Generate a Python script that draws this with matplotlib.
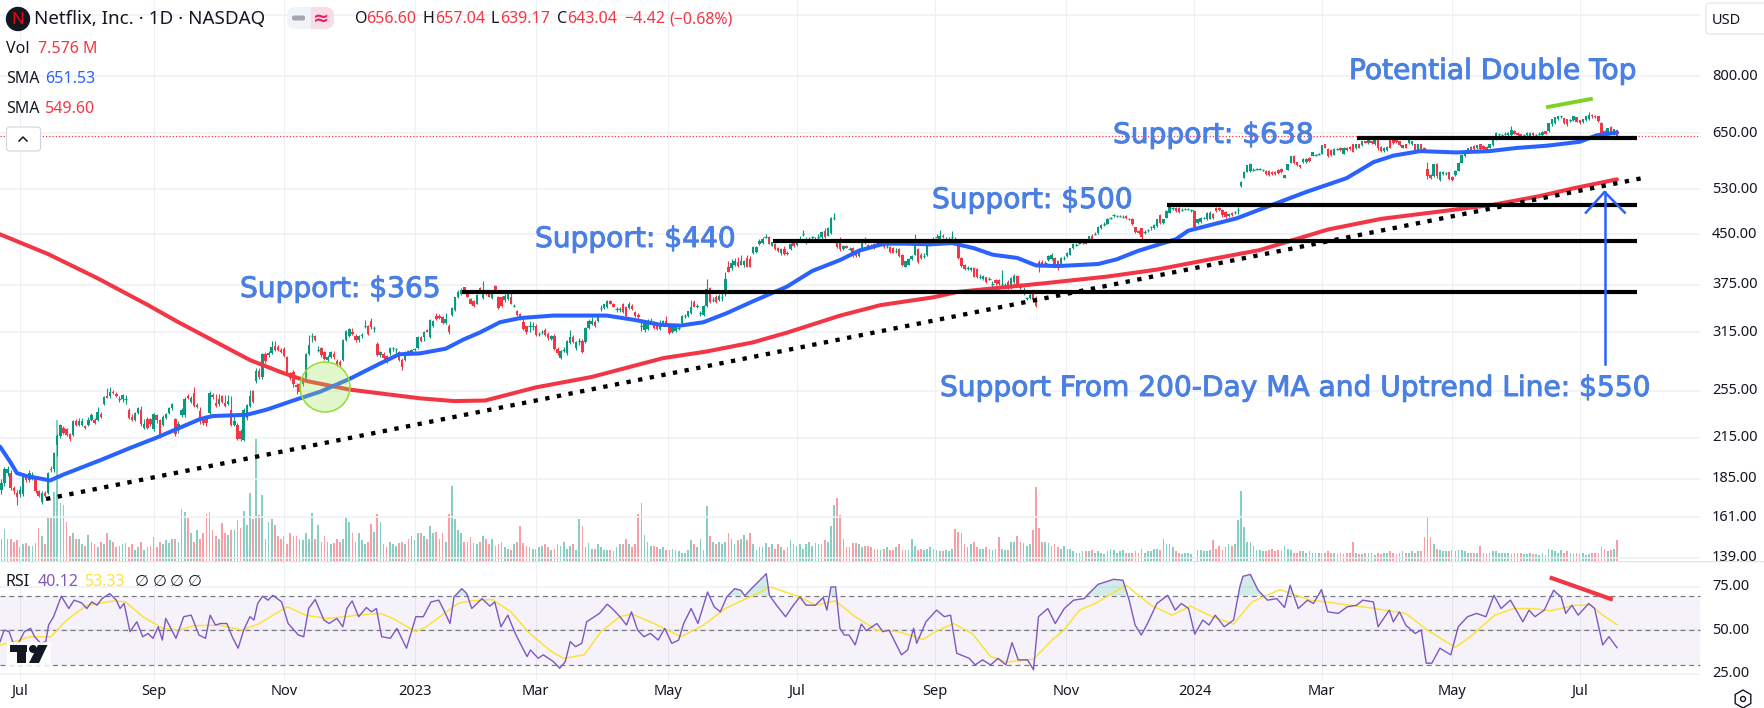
import numpy as np
import matplotlib
matplotlib.use("Agg")
import matplotlib.pyplot as plt
import matplotlib.patheffects as pe
from matplotlib.patches import Circle, FancyBboxPatch, Polygon, Rectangle, RegularPolygon

plt.rcParams['font.family'] = ['Noto Sans', 'DejaVu Sans']

# Daily candles, first bar is 6 sessions before 1 Jul 2022, one line = 10 bars
opens = [
    178,182,189,189,179,176,175,175,186,184,
    185,185,177,170,176,176,192,192,209,216,
    223,222,218,217,228,225,225,224,225,229,
    229,229,234,243,250,250,254,252,247,247,
    247,238,232,229,235,238,223,230,230,222,
    233,229,225,231,235,239,230,221,233,233,
    250,245,253,240,237,230,232,235,251,244,
    243,250,244,243,238,225,225,220,213,231,
    241,255,264,274,268,291,290,292,300,299,
    296,297,288,272,273,260,261,261,267,291,
    311,311,296,298,293,285,288,291,284,283,
    285,306,311,316,311,306,311,323,322,328,
    320,302,290,291,289,292,298,297,293,285,
    285,295,293,296,298,310,310,318,310,322,
    335,335,333,326,323,336,342,358,362,371,
    365,356,353,350,370,357,367,364,357,373,
    358,358,354,356,358,347,340,337,327,322,
    323,323,323,313,315,318,313,308,311,297,
    287,296,292,303,310,298,305,305,304,320,
    325,327,328,344,344,345,353,349,343,343,
    349,345,344,347,339,336,323,318,319,328,
    326,323,319,323,329,321,315,317,320,326,
    334,334,338,352,346,338,336,347,370,355,
    358,354,358,367,400,398,402,407,403,402,
    413,412,420,422,434,436,446,446,432,434,
    428,420,427,421,426,438,433,443,451,439,
    443,445,441,445,445,456,448,452,478,437,
    441,426,431,427,428,420,416,428,443,433,
    432,434,436,434,438,432,430,428,424,426,
    417,400,403,411,418,427,418,416,417,432,
    441,446,443,448,443,442,446,443,436,413,
    402,398,395,398,397,386,383,385,383,376,
    381,381,376,371,378,370,378,387,375,365,
    357,357,363,355,407,407,405,410,411,413,
    408,402,413,416,418,428,433,436,436,439,
    439,448,451,452,460,467,468,478,482,481,
    481,480,481,476,476,462,456,460,454,457,
    462,460,464,482,469,478,487,495,495,495,
    492,494,494,491,490,469,470,478,476,476,
    484,495,495,492,488,481,487,488,492,536,
    553,565,567,569,571,571,569,567,567,565,
    565,569,571,553,569,584,599,585,578,585,
    586,594,599,601,603,603,624,614,612,601,
    614,617,603,617,619,624,615,624,622,631,
    628,631,624,635,619,610,612,635,636,636,
    631,617,624,628,624,624,610,624,617,571,
    558,556,581,549,560,562,564,555,558,567,
    584,599,606,619,621,615,624,621,619,617,
    622,636,647,645,649,645,645,656,651,647,
    645,645,642,651,645,649,645,655,655,671,
    675,684,691,686,684,682,682,689,682,677,
    682,684,695,693,691,675,656,647,665,649,
    656.60]
closes = [
    182,192,192,179,177,173,178,186,184,189,
    188,177,174,176,174,189,191,203,216,225,
    219,217,214,228,225,228,228,223,229,233,
    227,236,232,249,248,254,253,250,247,251,
    247,231,229,235,239,226,226,223,226,234,
    229,217,232,234,239,243,218,226,238,247,
    248,248,241,242,231,227,227,253,249,241,
    247,245,241,246,225,228,214,214,238,242,
    250,245,274,268,291,284,292,299,296,296,
    293,289,273,267,261,258,254,267,291,301,
    311,306,296,290,286,288,293,288,280,280,
    307,317,319,313,306,311,312,323,313,321,
    320,290,293,287,283,298,298,297,285,278,
    293,291,296,297,310,305,316,316,330,328,
    331,332,326,331,315,344,358,365,368,368,
    359,350,347,361,368,365,362,359,365,367,
    344,347,360,363,350,347,336,331,319,316,
    323,323,312,313,315,312,309,311,297,292,
    294,296,305,310,304,304,305,293,320,329,
    329,322,335,344,349,353,350,346,343,343,
    339,334,350,343,334,333,323,328,328,328,
    320,319,323,328,323,314,322,323,320,334,
    334,340,346,346,347,338,347,369,352,355,
    352,360,358,382,393,405,408,401,409,408,
    400,400,430,430,440,442,446,435,437,426,
    423,427,419,419,434,431,441,443,451,439,
    443,445,441,445,454,445,460,478,478,430,
    426,431,429,427,416,416,426,439,436,428,
    430,428,436,434,430,432,422,421,424,416,
    403,408,412,416,435,407,413,416,433,437,
    441,446,448,445,443,442,446,436,413,401,
    397,398,398,386,385,386,387,378,383,376,
    377,376,376,375,369,384,387,372,370,365,
    357,361,356,347,400,402,405,416,418,403,
    398,413,413,421,428,435,433,436,438,435,
    447,443,451,463,466,467,476,478,482,481,
    481,480,478,476,468,454,452,445,454,457,
    462,466,475,469,475,490,498,495,490,488,
    492,494,494,491,463,475,478,478,487,487,
    478,490,491,482,480,485,482,488,492,545,
    565,578,581,569,571,571,569,560,559,560,
    560,562,564,558,581,598,583,579,574,592,
    592,587,606,601,603,622,617,599,601,614,
    614,612,617,612,614,608,624,617,631,628,
    633,628,635,615,610,617,619,617,628,629,
    622,622,617,633,631,610,624,614,612,556,
    553,581,556,565,565,562,551,549,567,584,
    601,608,615,612,614,622,614,614,612,624,
    636,651,647,645,649,651,658,649,645,642,
    645,651,651,645,645,649,653,649,674,684,
    689,691,691,674,671,682,691,678,675,684,
    691,695,691,689,680,651,649,662,653,660,
    643.04]
highs = [
    185,193,194,191,180,178,180,187,188,191,
    190,186,178,177,177,190,194,204,218,226,
    224,223,219,229,230,231,231,225,232,235,
    231,240,236,250,257,258,256,254,250,252,
    251,239,234,236,240,241,230,232,231,235,
    234,230,233,235,240,244,231,228,239,249,
    252,250,258,244,240,231,233,255,253,252,
    252,251,251,251,250,233,227,222,239,243,
    256,256,277,277,292,293,294,305,305,301,
    298,299,289,273,275,262,263,268,292,312,
    314,312,300,299,295,290,294,295,286,285,
    308,318,320,320,313,312,314,330,324,332,
    323,304,294,293,290,299,299,298,294,287,
    295,296,297,298,311,311,317,319,331,330,
    338,337,334,338,325,345,359,367,370,372,
    366,357,354,362,372,380,368,365,366,375,
    360,360,362,366,365,350,342,338,332,323,
    328,327,325,315,318,320,315,312,313,299,
    296,299,306,318,312,305,309,308,321,331,
    333,330,337,348,350,354,354,351,346,346,
    351,347,352,349,341,338,328,330,331,332,
    328,325,330,330,334,323,323,324,322,336,
    337,341,354,354,349,340,348,382,372,358,
    361,362,364,393,408,412,413,414,418,410,
    418,416,432,431,442,445,450,448,438,436,
    430,428,432,424,436,440,443,448,458,445,
    445,447,446,450,456,460,462,480,487,441,
    445,433,433,430,430,423,428,441,446,435,
    434,436,440,437,440,436,432,430,428,428,
    419,409,413,417,450,428,420,420,434,439,
    445,450,458,450,446,445,455,445,437,414,
    404,401,400,399,398,389,388,386,386,380,
    383,383,396,377,381,385,389,388,377,372,
    359,363,365,360,410,410,408,417,420,414,
    410,414,416,422,429,436,436,438,440,441,
    448,450,454,464,467,470,477,480,484,483,
    483,482,483,478,477,463,458,461,457,459,
    464,467,476,484,476,491,499,497,497,497,
    495,496,496,493,492,476,479,480,488,489,
    486,497,497,493,489,486,488,490,497,546,
    566,579,583,572,573,573,571,569,568,567,
    567,570,572,559,582,599,601,586,579,593,
    593,595,607,603,605,623,625,615,613,615,
    616,618,618,618,620,625,625,625,632,632,
    634,632,636,637,620,618,620,636,637,637,
    632,623,625,634,632,626,625,625,618,585,
    560,582,583,566,566,564,565,556,568,585,
    602,609,616,620,622,623,625,622,620,625,
    637,652,649,647,653,652,666,657,652,648,
    648,652,652,652,648,652,654,656,675,685,
    690,692,693,687,685,684,692,690,683,685,
    692,703,696,694,692,676,658,663,667,661,
    657.04]
lows = [
    175,180,187,178,175,168,173,174,183,183,
    184,176,173,169,173,175,190,190,201,215,
    218,216,212,216,224,224,224,222,224,228,
    226,228,231,242,248,248,252,249,245,245,
    243,230,228,228,234,224,222,222,224,220,
    227,215,224,230,234,238,216,219,232,232,
    247,244,240,239,226,225,224,234,247,240,
    241,244,240,242,224,224,213,212,212,229,
    240,244,262,266,266,282,288,291,295,294,
    292,288,272,265,258,252,252,259,266,290,
    304,305,293,288,285,283,287,286,279,278,
    284,305,310,312,304,304,309,320,312,319,
    315,289,288,286,282,290,294,292,284,275,
    284,290,292,294,297,304,305,315,309,321,
    330,331,325,325,313,335,341,357,361,367,
    358,349,345,349,366,356,361,358,356,365,
    343,346,352,355,349,345,335,330,318,313,
    316,318,311,311,313,311,306,307,296,290,
    286,293,290,302,303,296,301,292,303,319,
    324,321,327,340,343,344,349,345,339,339,
    338,333,343,342,333,331,317,316,318,325,
    319,318,318,322,322,313,314,316,318,325,
    332,333,337,345,344,335,335,346,351,352,
    351,353,353,360,392,396,401,400,402,400,
    399,399,419,421,433,434,444,434,431,425,
    422,418,418,417,425,430,432,441,447,434,
    441,441,439,443,443,444,447,451,474,428,
    424,425,428,425,415,414,415,427,434,427,
    428,427,433,431,429,428,421,420,421,415,
    401,399,402,410,417,405,411,413,416,431,
    439,444,442,444,441,439,442,435,412,400,
    395,396,394,385,384,383,381,377,381,372,
    375,374,370,369,365,369,376,371,367,361,
    355,356,354,346,392,400,402,408,410,401,
    396,401,410,415,417,427,431,434,435,434,
    438,442,449,451,459,464,467,476,480,479,
    479,478,476,474,466,452,450,443,451,454,
    458,459,463,468,468,477,486,492,488,486,
    489,491,491,488,458,467,469,475,474,475,
    476,488,489,480,478,480,481,485,485,535,
    552,564,565,566,568,568,566,559,557,558,
    558,561,563,552,568,583,581,577,572,584,
    584,585,598,598,600,602,615,597,599,600,
    611,610,602,610,612,606,613,615,621,627,
    626,626,623,612,608,608,610,615,626,627,
    620,615,615,626,622,608,608,611,610,550,
    551,554,553,546,558,559,549,546,557,566,
    583,597,604,610,612,613,612,612,610,615,
    620,634,640,636,645,644,644,647,643,640,
    641,643,640,643,642,645,644,647,653,668,
    672,682,688,672,668,678,680,676,673,675,
    680,683,688,687,678,648,646,645,651,645,
    639.17]
# Volume in millions
volumes = [
    8,11.5,8,8,7,7.5,5,6,6.5,5.5,
    5.5,6.5,12,9,6,15.4,15.4,25,50.8,21,
    20,14,9,10,8,8,6,5.5,9.5,7,
    6,5,7,6,10,7.5,7,5,5.5,6,
    6.5,5,6,4,5,7,4,5,5.5,8.5,
    5,7,6,7.5,6.5,8,8,7,18.6,17.8,
    15.6,10,7,11,8,10,17,17.8,11,9,
    8,13.6,10,9.5,11,11,14.8,12,18,13,
    24.4,15,43.8,16.6,23.8,8,14,15,13,9,
    8,9,6,10,9,9,8,7.5,10,8,
    17.2,8,13,7,9,7,6,6.5,8,7,
    8,15.4,14,10,7,10,7.5,6,7,13.5,
    10.5,16.9,14,6,5,7,6,5.5,6.5,7,
    6,8,9,7.5,10,10,9,8,12.5,10,
    10.5,8,10,7,17,27,15,11,10,7,
    7,8.5,6.5,6,7,9,8,6,8,5.5,
    6,7,5,4.5,4,6,7,12.7,6.5,5.5,
    5,4.5,4.5,5,5.5,6,5,4,4.5,6,
    5.5,7,4.5,5.5,6,4,15,12.5,5,6.5,
    4.5,4.5,6,5,4,4,4,3.5,5,6,
    6,8,6,5,6,17,20.8,9.5,7,5.5,
    5.5,5,4.5,5,4,4,4.5,4,3.5,3,
    3,4,7.5,6,5,8,4,19.8,9,7,
    6,7,6,7,10,8,6,7.5,8,9.5,
    7.5,10,6,4,5,5,6.5,5,6,4.5,
    6,5,4,5,7.5,6,5.5,6,4.5,6,
    7,5.5,6.5,6,6,7.5,7,12.6,20,22.8,
    16.6,8,5,5,6.5,6.5,6,5,5.5,5.5,
    5,4.5,4.5,4,4.5,5,4,4,5,6,
    4,4,4,8,5.5,4,4.5,4,4.5,5,
    4.5,4,3.5,3.5,4,3.5,4.5,11.5,10.5,10,
    6,5,6,7,5,4.5,4.5,5,4.5,4,
    4.5,8.5,4.5,4,4,7,7,9,7,6.5,
    5.5,6,11,26.6,12,7,7,6.5,5.5,6,
    5,4.5,5.5,4.5,4.5,3.5,3,3,3.5,3.5,
    3.5,4,3,3.5,3,2.5,3.5,4.5,4,3,
    3.5,4,3,3,3,3.5,3,4.5,3,3.5,
    3.5,4.5,4.5,4,8,6,6,5,3.5,3,
    2.5,3,3,2.5,3.5,4,4,3.5,3.5,4,
    7.5,4.5,5.5,4,5,6,5.5,6,14.8,25.2,
    12.4,7,7,5.5,4,4,3.5,3.5,4,4.5,
    3.5,4,3.5,5.5,4.5,4,3,3,3.5,3.5,
    3,3.5,3,3,3,3,3,3.5,3,3,
    2.5,3,2.5,3,3,7,3,2.5,2.5,3,
    3,3,2,3,2.5,3,3,3.5,3,2.5,
    3,3.5,3,3,3.5,3,3.5,3.5,8.5,16,
    8.5,6,4.5,4,3.5,3.5,3.5,4,3.5,4,
    4,3.5,3,3,3,3,5.5,3,2.5,3,
    3.5,3.5,3,3,3,3,2.5,3,3,3,
    2.5,2.5,3,2.5,2.5,2,3,2,4.5,4,
    3.5,3,4,3,3.5,3,2.5,3,2.5,3,
    2,2.5,3,3,3,5,4.5,3.5,4,4.5,
    7.576]

# Moving averages, read at the bends (bar number, price)
sma50_bars = [-6.4,-3.2,-1,2,9.7,14,25.8,35.4,44,58,62,73,79.4,89,96.6,106,115,122,128.8,
              137,142.7,148,154.5,161,171.7,180,188.8,197.4,206,212.5,220,227.5,236,246.8,255,264,
              270,278,285,293,300,307,313,321,327,334,347,353,360,372,376,391.6,
              403.5,414,427,435.6,442,450.7,462.4,473,481.7,491.4,502,507.5,514]
sma50_vals = [208,197,189,187,184,188,198,207,215,230,232.5,233.6,238,247,254,266,280,291,292,
              297,307,315,327,332,335,335,335,330,324,323,327,338,353,372,394,410,
              424,435,435,434,436,428,418,413,402,401,404,411,424,442,456,477,
              502,525,552,585,599,609,606,609,616,621,630,645,651.53]
sma200_bars = [-6.4,9,24.8,41.2,50.5,74,84.6,92.4,106,128.7,139.7,149.7,166,184,207,221,236,247,264,
               277,294,301.6,328,350,366,382,399,421,438,457,474,489,500,514]
sma200_vals = [450,419,384,348,328,285,272,264,256,248,245.5,246,258,268,287,294,304,315,335,
               348,358,365,376,386,396,410,425,458,476,489,501,517,532,549.6]

# Support levels and uptrend line
support_levels = [365, 440, 500, 638]
support_starts = [142.3, 242.4, 369.2, 430.3]
support_end = 520.4
trend_bars = [8.4, 523.7]
trend_prices = [172, 554]

# RSI, read at the bends
rsi_bars = [-6.4,-5.1,-3.5,-1.8,-0.2,1.4,3.4,4.7,6.7,8.3,9.2,10.8,13.3,15.7,17.4,19.8,21.5,23.1,24.8,26.4,
            28.9,31,32.2,33.5,35.4,37.6,39.5,41.2,42.8,44.5,45.8,46.9,50.2,52.7,55.1,57.6,59.7,61.2,62.9,64.5,
            66.6,68.3,70.2,72,74,75.3,76.5,78.1,79.8,81.4,84.2,86.3,89.6,91.3,92.9,95,97.8,99.5,102,103.9,
            105.2,106.9,109,111.5,113.1,114.7,116.4,119.2,121.3,124.4,127.4,129.8,132.3,134.8,136.4,138.4,139.7,142.2,143.8,145.4,
            148.7,151.2,152.8,154.8,157,159.4,161,163.2,164.3,166.8,168.4,170.1,171.7,173.7,175.5,177.1,178.8,180.8,182.4,184.9,
            186.5,189,190.6,193.1,195.2,196.8,198.8,200.8,202.9,205.4,207.5,209.8,212,213.6,216,218.2,221.3,223.4,225.4,227.5,
            230,232,233.3,234.9,240.2,241.2,243.5,246.4,248.9,
            251,253,256,258.5,259.7,261,262.5,263.9,265.3,266.8,268.8,270.8,272.4,275.8,277.7,279.7,283.7,285.7,287.6,288.6,
            291.6,295,297.5,299.5,301.5,305.5,307.4,309.8,312.4,314.8,317.3,319.3,321.3,324.3,326.2,327.8,330.8,333.2,336.1,339.1,
            342.5,344,347,352,355,357,358.9,360.9,362.9,365.9,369.4,371.8,373.8,376.1,378.1,380.7,382.7,384.7,387.6,390.6,
            392.6,393.6,396,398.5,401.5,404.5,407,408.8,411.4,414.4,416.3,418.9,420.9,424.3,427.2,430.2,432.2,435.6,437.1,440.7,
            442,444,446,449,451,452.6,454.4,457,460.5,462.9,465.9,468.8,471.8,474.4,476.7,479.7,483.7,485.7,487.6,490.6,
            493.6,496,497.5,499.5,501.5,504.9,506.8,509.4,511.4,514]
rsi_vals = [43.6,50.2,49.3,40.7,43.6,49.3,51.2,46.4,42.6,43.6,53.1,57.9,69.7,62.6,67.4,65.9,62.6,66.4,64.5,68.3,
            71.2,67.4,62.6,65.5,49.3,55,46.4,48.3,45.5,52.1,44.5,56.9,45.5,57.9,58.8,47.4,45.5,58.8,53.1,54,
            54,46.4,39.8,50.2,57.9,56,65.5,69.7,67.4,70.2,66.4,54,47.4,46.4,62.6,67.8,56,54,56.9,52.1,
            62.6,67,57.9,63.2,60.7,62.6,46.4,45.5,51.2,39.8,57.9,57.9,66.4,67.4,61.7,54,69.3,74,71.2,62.6,
            68.3,64,66.4,52.1,58.8,48.3,42.6,35,38.8,34,36,34,32.1,28.3,32.1,43.6,40.7,42.6,55,57.9,
            59.8,65.1,62.6,57.9,53.1,60.7,50.2,46.4,48.3,44.5,51.2,42.6,44.5,54,62.6,54,72.1,63.6,60.7,69.3,
            74,73.1,69.9,73.1,82.6,70.2,64.5,57.9,64.5,
            69.3,64.5,64.5,68.9,61.7,75,75,51.2,47.4,47.4,41.7,53.7,49.9,54,49.3,50.2,36,38.8,51.2,42.6,
            55,61.7,57.9,58.8,36.9,34,30.2,33.1,30.2,34,30.2,43,33.1,33.1,27.4,57.9,62.6,54,62.6,67.4,
            68.3,71.2,76.5,79.4,78.8,67.4,53.1,47.4,54,65.5,70.2,61.7,65.5,62.6,47.9,56,53.1,58.8,52.1,56,
            75,81.1,82.2,73.1,67.4,68.3,63.2,76,62.6,67.4,65.5,73.5,60.7,59.8,63.6,64.5,67.4,66.4,52.1,61.7,
            55,60.7,53.1,48.3,50.2,31.2,31.2,39.8,36,52.1,57.9,59.8,57.9,70.2,62.6,67.4,55,61.7,57.9,61.7,
            73.1,69.3,59.8,64.5,58.8,65.5,62.6,41.7,46.4,40.12]
rsi_ma_bars = [-6.4,0,3,10,15,21.5,25,30.5,34,39.5,46,51,56,64,71.5,77,86,92,98.6,105,108.5,116,120,127.4,130.7,
               141,145,152,158,164,171,175,181.6,187,193,197,204,212.8,220,227,235,241.5,
               251,256,262.5,268.8,275.8,282.7,290.6,295.6,300.5,306.4,312.4,317.3,326.2,332.2,336,341,346,356,364,370.8,
               376.7,383.7,390.6,396.5,405.5,415.4,422.3,436,446,453,461.9,466.8,474.7,480.7,486.6,492.6,500.5,505.5,509.4,514]
rsi_ma_vals = [41.7,44.5,46.4,46.4,56,64.5,65.5,67,66.4,57.9,51.2,50.2,52.7,53.1,50.2,54,63.6,58.8,56.9,57.9,58.8,59.8,56.9,49.3,52.1,
               65.5,67,67.8,60.7,48.3,37.9,34,36,49.3,57.9,59.4,54,46.4,53.1,62.6,69.3,75,
               69.3,64.5,67,57.9,50.2,49.3,44.9,50.2,54,48.3,35,31.8,33.5,44.5,50.2,61.7,65.5,76,64.5,58.8,
               64,57.9,53.7,66.4,73.5,67.4,65.9,62.6,59.8,50.2,40.3,46.4,58.8,62.6,62.6,61.3,64.5,64.5,58.8,53.33]

# Axis labels
price_ticks = [800, 650, 530, 450, 375, 315, 255, 215, 185, 161, 139]
rsi_ticks = [75, 50, 25]
month_bars = [0, 43, 85, 127, 166, 208.6, 250, 294.5, 336.7, 378, 419, 461, 502]
month_labels = ['Jul', 'Sep', 'Nov', '2023', 'Mar', 'May', 'Jul', 'Sep', 'Nov', '2024', 'Mar', 'May', 'Jul']

W, H = 1765, 708
PANE_Y = 561       # price/volume pane ends here, RSI pane starts
BAR_PX = 3.107     # width of one session in pixels
X0 = -20 / BAR_PX
X1 = (W - 20) / BAR_PX
PLOT_END = (1700 - 20) / BAR_PX
LABEL_X = (1712 - 20) / BAR_PX

GREEN = '#089981'
RED = '#f23645'
BLUE = '#2962ff'
GRID = '#edf0f5'
TEXT = '#131722'
NOTE = '#4a7fe3'

o = np.array(opens, dtype=float)
c = np.array(closes, dtype=float)
hi = np.array(highs, dtype=float)
lo = np.array(lows, dtype=float)
vol = np.array(volumes, dtype=float)
bars = np.arange(len(c)) - 6
up = c >= o
colors = np.where(up, GREEN, RED)

fig = plt.figure(figsize=(W / 100, H / 100), dpi=100, facecolor='white')

ax_vol = fig.add_axes([0, 1 - PANE_Y / H, 1, PANE_Y / H], zorder=1)
ax = fig.add_axes([0, 1 - PANE_Y / H, 1, PANE_Y / H], zorder=2)
ax_rsi = fig.add_axes([0, 0, 1, 1 - PANE_Y / H], zorder=2)
ax_top = fig.add_axes([0, 0, 1, 1], zorder=5)

for a in (ax_vol, ax, ax_rsi):
    a.set_xlim(X0, X1)
    a.axis('off')
ax.set_yscale('log')
ax.set_ylim(137.3, 1054.6)
ax_vol.set_ylim(0, 202)
ax_rsi.set_ylim(5.46, 89.9)
ax_top.set_xlim(0, W)
ax_top.set_ylim(H, 0)
ax_top.axis('off')
ax_top.patch.set_alpha(0)

# Grid
ax_vol.vlines(month_bars, 0, 202, color=GRID, lw=0.8)
ax.hlines(price_ticks + [1000], X0, PLOT_END, color=GRID, lw=1.1)
ax_rsi.vlines(month_bars, 21.6, 89.9, color=GRID, lw=0.8, zorder=0)
ax_rsi.hlines(rsi_ticks, X0, PLOT_END, color=GRID, lw=1.1, zorder=0)
ax_rsi.hlines(89.9, X0, X1, color='#e0e3eb', lw=1)

# Volume
ax_vol.bar(bars, vol, width=0.55, color=colors, alpha=0.48, lw=0)

# Last price line
ax.hlines(closes[-1], X0, PLOT_END, color=RED, lw=0.9, linestyles=(0, (1, 1.6)), zorder=1)

# Candles
ax.vlines(bars, lo, hi, color=colors, lw=0.8, zorder=3)
ax.bar(bars, np.abs(c - o), width=0.78, bottom=np.minimum(o, c), color=colors, lw=0, zorder=3)
flat = o == c
ax.hlines(c[flat], bars[flat] - 0.4, bars[flat] + 0.4, color=colors[flat], lw=0.9, zorder=3)

# Moving averages, support lines and trend line
ax.plot(sma200_bars, sma200_vals, color=RED, lw=2.9, zorder=4, solid_capstyle='round')
ax.plot(sma50_bars, sma50_vals, color=BLUE, lw=2.9, zorder=4, solid_capstyle='round')
ax.plot(trend_bars, trend_prices, color='black', lw=3.1, linestyle=(0, (1, 1.75)), zorder=5)
ax.hlines(support_levels, support_starts, support_end, color='black', lw=3, zorder=6)

# Arrow up to the 200-day MA and the double top mark
ax.plot([510, 510], [281, 525], color=BLUE, lw=1.8, zorder=7)
ax.plot([504, 510, 516.5], [487, 525, 487], color=BLUE, lw=1.8, zorder=7)
ax.plot([491.8, 505.6], [715, 736], color='#7ed321', lw=2.8, zorder=7)

# Price labels
for p in price_ticks:
    ax.text(LABEL_X, p, f'{p:.2f}', color=TEXT, fontsize=10.5, va='center', ha='left', clip_on=True)

# RSI pane
ax_rsi.fill_between([X0, PLOT_END], 30, 70, color='#7e57c2', alpha=0.075, lw=0, zorder=1)
ax_rsi.hlines([70, 50, 30], X0, PLOT_END, color='#787b86', lw=0.9, linestyles=(0, (4, 3)), zorder=2)
ax_rsi.fill_between(rsi_bars, 70, rsi_vals, where=np.array(rsi_vals) > 70, interpolate=True,
                    color=GREEN, alpha=0.18, lw=0, zorder=2)
ax_rsi.fill_between(rsi_bars, 30, rsi_vals, where=np.array(rsi_vals) < 30, interpolate=True,
                    color=RED, alpha=0.18, lw=0, zorder=2)
ax_rsi.plot(rsi_ma_bars, rsi_ma_vals, color='#fbe33b', lw=1.1, zorder=3)
ax_rsi.plot(rsi_bars, rsi_vals, color='#7e57c2', lw=1.0, zorder=4)
ax_rsi.plot([493, 512], [80.1, 68.1], color=RED, lw=3, zorder=5)
for r in rsi_ticks:
    ax_rsi.text(LABEL_X, r, f'{r:.2f}', color=TEXT, fontsize=10.5, va='center', ha='left')
for b, lab in zip(month_bars, month_labels):
    ax_rsi.text(b, 15, lab, color=TEXT, fontsize=10.5, ha='center', va='center',
                fontweight='bold' if lab.isdigit() else 'normal')

# Everything below is chart furniture placed in pixels
ax_top.add_patch(Circle((325, 387), 25, facecolor='#a5e55a', edgecolor='#7ed321', alpha=0.3, lw=0))
ax_top.add_patch(Circle((325, 387), 25, fill=False, edgecolor='#8be02e', lw=1.1))

notes = [('Support: $365', 240, 289), ('Support: $440', 535, 239), ('Support: $500', 932, 200),
         ('Support: $638', 1113, 135), ('Potential Double Top', 1349, 71),
         ('Support From 200-Day MA and Uptrend Line: $550', 940, 388)]
for txt, x, y in notes:
    t = ax_top.text(x, y, txt, color=NOTE, fontsize=20.2, family='DejaVu Sans', va='center', ha='left')
    t.set_path_effects([pe.withStroke(linewidth=0.7, foreground=NOTE)])

# Header
ax_top.add_patch(Circle((18, 19), 11.5, color='#131722'))
ax_top.text(18, 19.5, 'N', color='#e50914', fontsize=12, fontweight='bold', ha='center', va='center')
ax_top.text(34, 19, 'Netflix, Inc. · 1D · NASDAQ', color=TEXT, fontsize=13.5, va='center')
pill = FancyBboxPatch((287, 7), 47, 22, boxstyle='round,pad=0,rounding_size=9', color='#f0f3fa', lw=0)
ax_top.add_patch(pill)
pink = Rectangle((311, 7), 23, 22, color='#f9dde6', lw=0)
ax_top.add_patch(pink)
pink.set_clip_path(pill)
ax_top.add_patch(FancyBboxPatch((292, 15.5), 13, 5, boxstyle='round,pad=0,rounding_size=2', color='#a3a6af', lw=0))
ax_top.text(321, 18, '≈', color='#e91e63', fontsize=14, fontweight='bold', ha='center', va='center',
            family='DejaVu Sans')

ohlc_text = [('O', 355, TEXT), ('656.60', 366, RED), ('H', 423, TEXT), ('657.04', 435, RED),
             ('L', 491, TEXT), ('639.17', 500, RED), ('C', 557, TEXT), ('643.04', 567, RED),
             ('−4.42', 624, RED), ('(−0.68%)', 669, RED)]
for txt, x, col in ohlc_text:
    ax_top.text(x, 19, txt, color=col, fontsize=11.5, va='center')

legend_text = [('Vol', 6, 49, TEXT), ('7.576 M', 38, 49, RED), ('SMA', 6, 79, TEXT), ('651.53', 45, 79, BLUE),
               ('SMA', 6, 109, TEXT), ('549.60', 45, 109, RED), ('RSI', 6, 582, TEXT), ('40.12', 38, 582, '#7e57c2'),
               ('53.33', 85, 582, '#fbe33b'), ('∅', 135, 582, TEXT), ('∅', 153, 582, TEXT),
               ('∅', 170, 582, TEXT), ('∅', 188, 582, TEXT)]
for txt, x, y, col in legend_text:
    ax_top.text(x, y, txt, color=col, fontsize=11.5, va='center')

ax_top.add_patch(FancyBboxPatch((6.5, 127), 34, 24, boxstyle='round,pad=0,rounding_size=3',
                                fc='white', ec='#d1d4dc', lw=0.8))
ax_top.plot([19, 23, 27], [141, 137, 141], color=TEXT, lw=1.1)

ax_top.add_patch(FancyBboxPatch((1706, 3), 70, 31, boxstyle='round,pad=0,rounding_size=4',
                                fc='white', ec='#e0e3eb', lw=0.8))
ax_top.text(1712, 20, 'USD', color=TEXT, fontsize=10.5, va='center')

# TradingView mark on a white patch
ax_top.add_patch(Rectangle((7, 642), 44, 24, color='white', lw=0, alpha=0.85))
ax_top.add_patch(Rectangle((10, 645), 17.5, 7, color=TEXT, lw=0))
ax_top.add_patch(Rectangle((17, 645), 9.5, 18, color=TEXT, lw=0))
ax_top.add_patch(Circle((33, 649), 4, color=TEXT, lw=0))
ax_top.add_patch(Polygon([(38, 645), (47.5, 645), (39, 663), (29, 663)], color=TEXT, lw=0))

# Settings icon
ax_top.add_patch(RegularPolygon((1743, 699), 6, radius=9, fill=False, ec=TEXT, lw=1))
ax_top.add_patch(Circle((1743, 699), 2.5, fill=False, ec=TEXT, lw=1))

fig.savefig('out.png', dpi=100)
